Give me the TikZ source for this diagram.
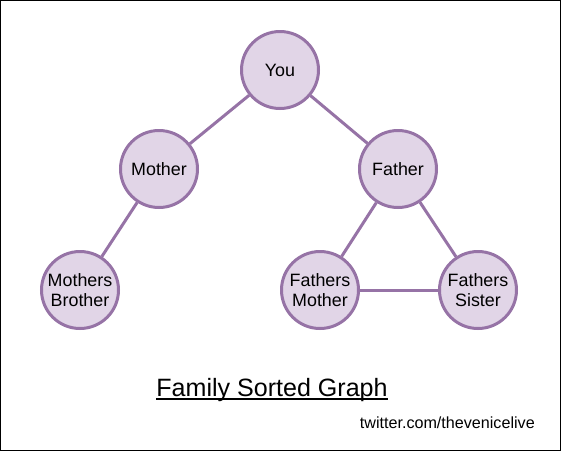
\documentclass[tikz,border=0pt]{standalone}
\usepackage{fontspec}
\setmainfont{Liberation Sans}
\usetikzlibrary{positioning}

\definecolor{famfill}{HTML}{E1D5E7}
\definecolor{famdraw}{HTML}{9673A6}

\tikzset{
  person/.style={circle, draw=famdraw, fill=famfill, line width=2.25pt,
    minimum size=57.75pt, inner sep=0pt, align=center, font=\fontsize{13.4}{15}\selectfont},
  tie/.style={draw=famdraw, line width=2.25pt},
}

\begin{document}
\begin{tikzpicture}[x=0.75pt, y=-0.75pt, on grid]
  \draw[black, line width=0.75pt] (0.5,0.5) rectangle (560.5,450.5);
  \node[person] (You) at (280,70) {You};
  \node[person, below left=74.25pt and 90.75pt of You] (Mother) {Mother};
  \node[person, below right=74.25pt and 88.5pt of You] (Father) {Father};
  \node[person, below left=90.75pt and 59.25pt of Mother] (MBrother) {Mothers\\Brother};
  \node[person, below left=90.75pt and 58.5pt of Father] (FMother) {Fathers\\Mother};
  \node[person, below right=90.75pt and 60pt of Father] (FSister) {Fathers\\Sister};
  % edges
  \draw[tie] (You) -- (Mother);
  \draw[tie] (You) -- (Father);
  \draw[tie] (Mother) -- (MBrother);
  \draw[tie] (Father) -- (FMother);
  \draw[tie] (Father) -- (FSister);
  \draw[tie] (FMother) -- (FSister);
  % captions
  \node[anchor=base, inner sep=0pt, font=\fontsize{18.8}{22}\selectfont] (Title) at (272,396) {Family Sorted Graph};
  \draw[line width=1.2pt] ([yshift=-2.2pt]Title.base west) -- ([yshift=-2.2pt]Title.base east);
  \node[anchor=base east, inner sep=0pt, font=\fontsize{12.1}{14}\selectfont] (Credit) at (535,428) {twitter.com/thevenicelive};
\end{tikzpicture}
\end{document}
